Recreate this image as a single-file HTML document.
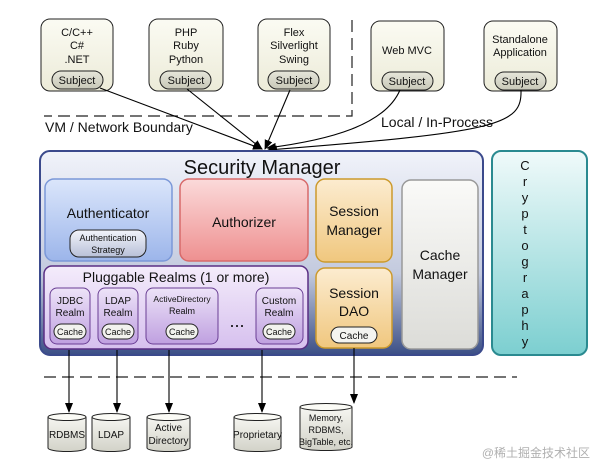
<!DOCTYPE html>
<html><head><meta charset="utf-8"><style>
body{margin:0;background:#fff;width:605px;height:471px;overflow:hidden}
svg text{font-family:"Liberation Sans","Noto Sans CJK SC",sans-serif;fill:#111}
</style></head><body>
<svg width="605" height="471" viewBox="0 0 605 471" xmlns="http://www.w3.org/2000/svg">
<defs>
<linearGradient id="cl" x1="0" y1="0" x2="0" y2="1"><stop offset="0" stop-color="#fbfbf3"/><stop offset="1" stop-color="#ecebd8"/></linearGradient>
<linearGradient id="pill" x1="0" y1="0" x2="0" y2="1"><stop offset="0" stop-color="#e6e6da"/><stop offset="1" stop-color="#c8c8b8"/></linearGradient>
<linearGradient id="sm" x1="0" y1="0" x2="0" y2="1"><stop offset="0" stop-color="#f1f3fa"/><stop offset="0.6" stop-color="#c3cade"/><stop offset="1" stop-color="#3b4f86"/></linearGradient>
<linearGradient id="au" x1="0" y1="0" x2="0" y2="1"><stop offset="0" stop-color="#dbe6fb"/><stop offset="1" stop-color="#9cb5ea"/></linearGradient>
<linearGradient id="az" x1="0" y1="0" x2="0" y2="1"><stop offset="0" stop-color="#fbdada"/><stop offset="1" stop-color="#ee9090"/></linearGradient>
<linearGradient id="se" x1="0" y1="0" x2="0" y2="1"><stop offset="0" stop-color="#fcecd0"/><stop offset="1" stop-color="#f0c77e"/></linearGradient>
<linearGradient id="ca" x1="0" y1="0" x2="0" y2="1"><stop offset="0" stop-color="#fafaf8"/><stop offset="1" stop-color="#dcdcd8"/></linearGradient>
<linearGradient id="cr" x1="0" y1="0" x2="0" y2="1"><stop offset="0" stop-color="#f0fafa"/><stop offset="1" stop-color="#7ccfd0"/></linearGradient>
<linearGradient id="pr" x1="0" y1="0" x2="0" y2="1"><stop offset="0" stop-color="#f4ecfb"/><stop offset="1" stop-color="#d6c0ee"/></linearGradient>
<linearGradient id="rl" x1="0" y1="0" x2="0" y2="1"><stop offset="0" stop-color="#ede3f8"/><stop offset="1" stop-color="#bfa0e0"/></linearGradient>
<linearGradient id="as" x1="0" y1="0" x2="0" y2="1"><stop offset="0" stop-color="#f2f4fa"/><stop offset="1" stop-color="#b8c0d8"/></linearGradient>
<linearGradient id="cy" x1="0" y1="0" x2="0" y2="1"><stop offset="0" stop-color="#f6f6f1"/><stop offset="1" stop-color="#d2d2c8"/></linearGradient>
<marker id="ah" markerWidth="10" markerHeight="10" refX="9" refY="5" orient="auto" markerUnits="userSpaceOnUse"><path d="M0,1 L10,5 L0,9 Z" fill="#000"/></marker>
</defs>

<!-- client boxes -->
<g stroke="#222" stroke-width="1">
<rect x="41" y="19" width="72" height="72" rx="9" fill="url(#cl)"/>
<rect x="149" y="19" width="74" height="72" rx="9" fill="url(#cl)"/>
<rect x="258" y="19" width="72" height="72" rx="9" fill="url(#cl)"/>
<rect x="371" y="21" width="73" height="70" rx="9" fill="url(#cl)"/>
<rect x="484" y="21" width="73" height="70" rx="9" fill="url(#cl)"/>
<rect x="52" y="71" width="51" height="18" rx="9" fill="url(#pill)"/>
<rect x="160" y="71" width="51" height="18" rx="9" fill="url(#pill)"/>
<rect x="268" y="71" width="51" height="18" rx="9" fill="url(#pill)"/>
<rect x="382" y="72" width="51" height="18" rx="9" fill="url(#pill)"/>
<rect x="495" y="72" width="51" height="18" rx="9" fill="url(#pill)"/>
</g>
<g font-size="11" text-anchor="middle">
<text x="77" y="36">C/C++</text><text x="77" y="49">C#</text><text x="77" y="63">.NET</text>
<text x="186" y="36">PHP</text><text x="186" y="49">Ruby</text><text x="186" y="63">Python</text>
<text x="294" y="36">Flex</text><text x="294" y="49">Silverlight</text><text x="294" y="63">Swing</text>
<text x="407" y="54">Web MVC</text>
<text x="520" y="43">Standalone</text><text x="520" y="56">Application</text>
<text x="77" y="84">Subject</text><text x="186" y="84">Subject</text><text x="294" y="84">Subject</text><text x="407" y="85">Subject</text><text x="520" y="85">Subject</text>
</g>

<!-- boundary -->
<g stroke="#222" stroke-width="1.2" stroke-dasharray="12,6" fill="none">
<path d="M352 20 V116 H44"/>
<path d="M44 377 H517"/>
</g>
<text x="45" y="132" font-size="14">VM / Network Boundary</text>
<text x="381" y="127" font-size="14">Local / In-Process</text>

<!-- arrows to SM -->
<g stroke="#000" stroke-width="1.1" fill="none" marker-end="url(#ah)">
<path d="M100 88 L262 149"/>
<path d="M187 89 L262 149"/>
<path d="M290 90 L265 149"/>
<path d="M400 90 C385 125 330 140 267 148"/>
<path d="M521 90 C522 125 500 132 268 150"/>
</g>

<!-- security manager -->
<rect x="40" y="151" width="443" height="204" rx="10" fill="url(#sm)" stroke="#3b4a8c" stroke-width="2"/>
<text x="262" y="174" font-size="20" text-anchor="middle">Security Manager</text>
<rect x="45" y="179" width="127" height="82" rx="9" fill="url(#au)" stroke="#7b98d8" stroke-width="1.5"/>
<text x="108" y="218" font-size="14" text-anchor="middle">Authenticator</text>
<rect x="70" y="230" width="76" height="27" rx="9" fill="url(#as)" stroke="#222"/>
<text x="108" y="241" font-size="9" text-anchor="middle">Authentication</text>
<text x="108" y="253" font-size="9" text-anchor="middle">Strategy</text>
<rect x="180" y="179" width="128" height="82" rx="9" fill="url(#az)" stroke="#d86a6a" stroke-width="1.5"/>
<text x="244" y="227" font-size="14" text-anchor="middle">Authorizer</text>
<rect x="316" y="179" width="76" height="83" rx="9" fill="url(#se)" stroke="#cc9a2c" stroke-width="1.5"/>
<text x="354" y="216" font-size="14" text-anchor="middle">Session</text>
<text x="354" y="235" font-size="14" text-anchor="middle">Manager</text>
<rect x="316" y="268" width="76" height="80" rx="9" fill="url(#se)" stroke="#cc9a2c" stroke-width="1.5"/>
<text x="354" y="298" font-size="14" text-anchor="middle">Session</text>
<text x="354" y="316" font-size="14" text-anchor="middle">DAO</text>
<rect x="331" y="327" width="46" height="16" rx="8" fill="#f4f4f0" stroke="#222"/>
<text x="354" y="339" font-size="10" text-anchor="middle">Cache</text>
<rect x="402" y="180" width="76" height="169" rx="9" fill="url(#ca)" stroke="#999" stroke-width="1.5"/>
<text x="440" y="260" font-size="14" text-anchor="middle">Cache</text>
<text x="440" y="279" font-size="14" text-anchor="middle">Manager</text>

<rect x="44" y="266" width="264" height="83" rx="8" fill="url(#pr)" stroke="#5a2e84" stroke-width="1.5"/>
<text x="176" y="282" font-size="14" text-anchor="middle">Pluggable Realms (1 or more)</text>
<g stroke="#6a3e94" stroke-width="1" fill="url(#rl)">
<rect x="50" y="288" width="40" height="56" rx="7"/>
<rect x="98" y="288" width="40" height="56" rx="7"/>
<rect x="146" y="288" width="72" height="56" rx="7"/>
<rect x="256" y="288" width="47" height="56" rx="7"/>
</g>
<g font-size="10" text-anchor="middle">
<text x="70" y="304">JDBC</text><text x="70" y="316">Realm</text>
<text x="118" y="304">LDAP</text><text x="118" y="316">Realm</text>
<text x="182" y="302" font-size="8.5">ActiveDirectory</text><text x="182" y="314" font-size="9">Realm</text>
<text x="279" y="304">Custom</text><text x="279" y="316">Realm</text>
</g>
<g stroke="#222" fill="#f2f2ee">
<rect x="54" y="324" width="32" height="15" rx="7.5"/>
<rect x="102" y="324" width="32" height="15" rx="7.5"/>
<rect x="166" y="324" width="32" height="15" rx="7.5"/>
<rect x="263" y="324" width="32" height="15" rx="7.5"/>
</g>
<g font-size="9" text-anchor="middle">
<text x="70" y="335">Cache</text><text x="118" y="335">Cache</text><text x="182" y="335">Cache</text><text x="279" y="335">Cache</text>
</g>
<text x="237" y="327" font-size="18" text-anchor="middle">...</text>

<rect x="492" y="151" width="95" height="204" rx="9" fill="url(#cr)" stroke="#2a8a90" stroke-width="2"/>
<g font-size="13" text-anchor="middle">
<text x="525" y="170">C</text><text x="525" y="186">r</text><text x="525" y="202">y</text><text x="525" y="218">p</text><text x="525" y="234">t</text><text x="525" y="250">o</text><text x="525" y="266">g</text><text x="525" y="282">r</text><text x="525" y="298">a</text><text x="525" y="314">p</text><text x="525" y="330">h</text><text x="525" y="346">y</text>
</g>

<!-- down arrows -->
<g stroke="#000" stroke-width="1.1" fill="none" marker-end="url(#ah)">
<path d="M69 350 V412"/><path d="M117 350 V412"/><path d="M169 350 V412"/><path d="M262 350 V412"/><path d="M354 348 V403"/>
</g>

<!-- cylinders -->
<g stroke="#222" stroke-width="1" fill="url(#cy)">
<path d="M48 417 V448 A19 3.5 0 0 0 86 448 V417"/><ellipse cx="67" cy="417" rx="19" ry="3.5" fill="#fbfbf6"/>
<path d="M92 417 V448 A19 3.5 0 0 0 130 448 V417"/><ellipse cx="111" cy="417" rx="19" ry="3.5" fill="#fbfbf6"/>
<path d="M147 417 V448 A21.5 3.5 0 0 0 190 448 V417"/><ellipse cx="168.5" cy="417" rx="21.5" ry="3.5" fill="#fbfbf6"/>
<path d="M234 417 V448 A23.5 3.5 0 0 0 281 448 V417"/><ellipse cx="257.5" cy="417" rx="23.5" ry="3.5" fill="#fbfbf6"/>
<path d="M300 407 V447 A26 3.5 0 0 0 352 447 V407"/><ellipse cx="326" cy="407" rx="26" ry="3.5" fill="#fbfbf6"/>
</g>
<g font-size="10" text-anchor="middle">
<text x="67" y="438">RDBMS</text>
<text x="111" y="438">LDAP</text>
<text x="168.5" y="431">Active</text><text x="168.5" y="444">Directory</text>
<text x="257.5" y="438">Proprietary</text>
<text x="326" y="421" font-size="9">Memory,</text><text x="326" y="433" font-size="9">RDBMS,</text><text x="326" y="445" font-size="9">BigTable, etc.</text>
</g>
<text x="590" y="457" font-size="12" text-anchor="end" style="fill:#b0b0b0">@稀土掘金技术社区</text>
</svg>
</body></html>
